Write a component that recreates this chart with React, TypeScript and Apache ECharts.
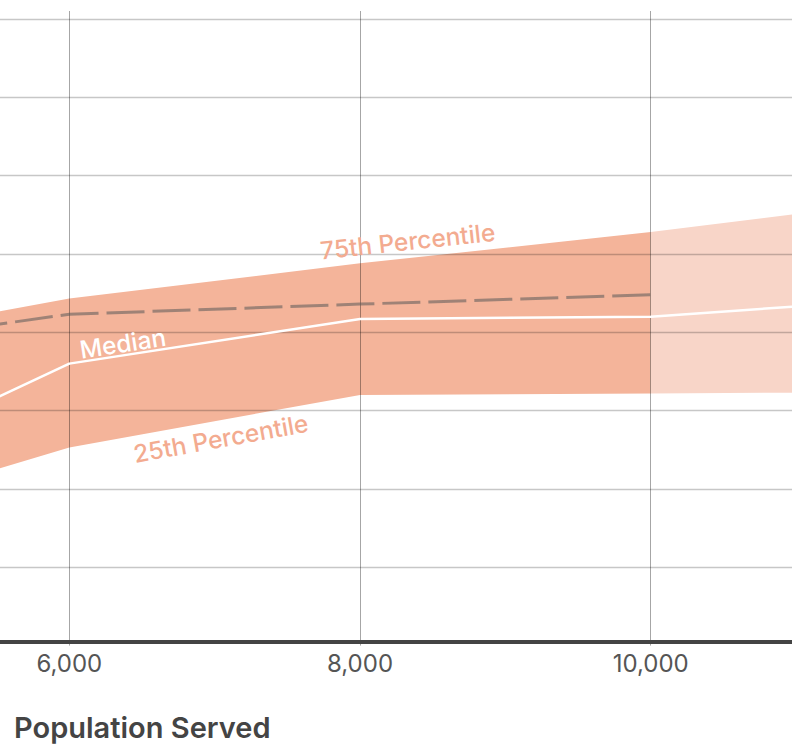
import React, { useEffect, useRef } from "react";
import * as echarts from "echarts";

// ---- data ----
const populationServed = [5000, 6000, 8000, 10000];
const p25 = [1.97, 2.53, 3.2, 3.22];
const p75 = [4.09, 4.43, 4.88, 5.28];
const dashedValues = [3.97, 4.23, 4.36, 4.48];
const projectedPopulation = [10000, 11000];
const projectedP25 = [3.22, 3.23];
const projectedP75 = [5.28, 5.51];
const medianPopulation = [5000, 6000, 8000, 10000, 11000];
const medianValues = [2.73, 3.6, 4.17, 4.2, 4.33];
const xTicks = [6000, 8000, 10000];
const xRange = [5523, 10972];
const yRange = [0, 8.102];
const xAxisTitle = "Population Served";

const BAND = "#f4b49a";
const BAND_LIGHT = "#f8d5c8";
const LABEL = "#f3ab90";
const FONT = "Inter";

function bandSeries(name: string, xs: number[], lo: number[], hi: number[], color: string) {
  return {
    type: "custom",
    name,
    z: 1,
    silent: true,
    data: xs.map((x, i) => [x, lo[i], hi[i]]),
    encode: { x: 0, y: 1 },
    renderItem: (params: any, api: any) => {
      if (params.dataIndex !== 0) return null;
      const top = xs.map((x, i) => api.coord([x, hi[i]]));
      const bottom = xs.map((x, i) => api.coord([x, lo[i]])).reverse();
      const cs = params.coordSys;
      return {
        type: "group",
        clipPath: { type: "rect", shape: { x: cs.x, y: cs.y, width: cs.width, height: cs.height } },
        children: [
          { type: "polygon", shape: { points: top.concat(bottom) }, style: { fill: color } },
        ],
      };
    },
  };
}

const labelSpecs = [
  { text: "75th Percentile", xs: populationServed, ys: p75, at: 8340, above: 17, color: LABEL },
  { text: "Median", xs: medianPopulation, ys: medianValues, at: 6380, above: 12, color: "#ffffff" },
  { text: "25th Percentile", xs: populationServed, ys: p25, at: 7020, above: -18, color: LABEL },
];

export default function App() {
  const ref = useRef<HTMLDivElement>(null);
  useEffect(() => {
    if (!ref.current) return;
    const chart = echarts.init(ref.current, null, { renderer: "svg" });
    chart.setOption({
      animation: false,
      textStyle: { fontFamily: FONT },
      title: {
        text: xAxisTitle,
        left: 14,
        top: 713,
        padding: 0,
        textStyle: { fontFamily: FONT, fontSize: 29, fontWeight: 600, color: "#444444" },
      },
      grid: { left: 0, right: 0, top: 11, bottom: 100.4 },
      xAxis: {
        type: "value",
        min: xRange[0],
        max: xRange[1],
        splitNumber: 3,
        minInterval: 2000,
        maxInterval: 2000,
        offset: -3.9,
        z: 3,
        axisLine: { show: true, onZero: false, lineStyle: { color: "#444444", width: 4 } },
        axisTick: { show: false },
        axisLabel: {
          showMinLabel: false,
          showMaxLabel: false,
          margin: 10,
          color: "#555555",
          fontSize: 24,
          fontFamily: FONT,
          formatter: (v: number) => (xTicks.includes(v) ? v.toLocaleString("en-US") : ""),
        },
        splitLine: {
          show: true,
          showMinLine: false,
          showMaxLine: false,
          lineStyle: { color: "rgba(0,0,0,0.35)", width: 1 },
        },
      },
      yAxis: {
        type: "value",
        min: yRange[0],
        max: yRange[1],
        splitNumber: 8,
        minInterval: 1,
        maxInterval: 1,
        z: 3,
        axisLine: { show: false },
        axisTick: { show: false },
        axisLabel: { show: false },
        splitLine: {
          show: true,
          showMinLine: false,
          showMaxLine: false,
          lineStyle: { color: "rgba(0,0,0,0.22)", width: 1.3 },
        },
      },
      series: [
        bandSeries("Interquartile range", populationServed, p25, p75, BAND),
        bandSeries("Projected range", projectedPopulation, projectedP25, projectedP75, BAND_LIGHT),
        {
          type: "line",
          name: "Median",
          z: 4,
          symbol: "none",
          data: medianPopulation.map((x, i) => [x, medianValues[i]]),
          lineStyle: { color: "#ffffff", width: 2.5 },
        },
        {
          type: "line",
          name: "Reference",
          z: 4,
          symbol: "none",
          data: populationServed.map((x, i) => [x, dashedValues[i]]),
          lineStyle: { color: "rgba(90,90,90,0.55)", width: 3, type: [38, 8] },
        },
      ],
    });

    const graphics = labelSpecs.map((s) => {
      const pts = s.xs.map((x, i) => chart.convertToPixel({ gridIndex: 0 }, [x, s.ys[i]]) as number[]);
      const target = chart.convertToPixel({ gridIndex: 0 }, [s.at, 0]) as number[];
      const px = target[0];
      let k = 0;
      while (k < pts.length - 2 && pts[k + 1][0] < px) k++;
      const a = pts[k];
      const b = pts[k + 1];
      const t = (px - a[0]) / (b[0] - a[0]);
      const py = a[1] + t * (b[1] - a[1]);
      const ang = Math.atan2(-(b[1] - a[1]), b[0] - a[0]);
      const cx = px - s.above * Math.sin(ang);
      const cy = py - s.above * Math.cos(ang);
      return {
        type: "text",
        x: cx,
        y: cy,
        rotation: ang,
        z: 10,
        silent: true,
        style: {
          text: s.text,
          fill: s.color,
          fontFamily: FONT,
          fontSize: 24.5,
          fontWeight: 500,
          align: "center",
          verticalAlign: "middle",
          textAlign: "center",
          textVerticalAlign: "middle",
        },
      };
    });
    chart.setOption({ graphic: graphics });

    return () => chart.dispose();
  }, []);
  return (
    <div
      ref={ref}
      style={{ position: "absolute", left: 0, top: 0, width: 792, height: 746, background: "#ffffff" }}
    />
  );
}
